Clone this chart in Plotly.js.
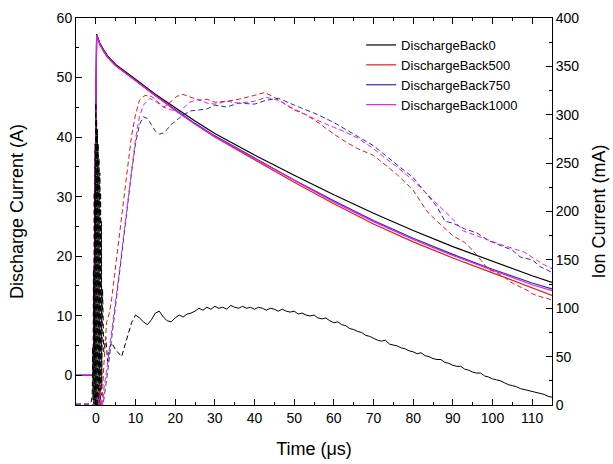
<!DOCTYPE html>
<html><head><meta charset="utf-8">
<script src="https://cdn.plot.ly/plotly-3.0.1.min.js"></script>
<style>html,body{margin:0;padding:0;background:#fff}#chart{width:613px;height:464px}</style>
</head><body><div id="chart"></div>
<script>
// ---- Discharge current (A), left axis ----
const dischargeTime = [-5, -0.6, 0.2, 0.5, 1, 2, 3, 5, 7.5, 10, 15, 20, 25, 30, 40, 50, 60, 70, 80, 90, 100, 110, 115];
const dischargeBack0    = [0, 0, 57.3, 56.6, 55.8, 54.6, 53.6, 52.2, 50.9, 49.7, 47.2, 44.9, 42.7, 40.6, 37.0, 33.6, 30.3, 27.2, 24.3, 21.6, 19.1, 16.7, 15.6];
const dischargeBack500  = [0, 0, 57.1, 56.4, 55.6, 54.4, 53.4, 52.0, 50.7, 49.5, 47.0, 44.5, 42.2, 40.0, 36.2, 32.4, 28.8, 25.4, 22.4, 19.7, 17.2, 14.7, 13.4];
const dischargeBack750  = [0, 0, 57.1, 56.4, 55.6, 54.4, 53.4, 52.0, 50.7, 49.5, 47.0, 44.6, 42.3, 40.2, 36.5, 32.8, 29.3, 26.0, 23.0, 20.3, 17.8, 15.5, 14.5];
const dischargeBack1000 = [0, 0, 57.1, 56.4, 55.6, 54.4, 53.4, 52.0, 50.7, 49.5, 47.0, 44.5, 42.2, 40.1, 36.4, 32.7, 29.1, 25.8, 22.8, 20.1, 17.6, 15.2, 14.2];

// ---- Ion current (mA), right axis ----
const ionTimeBack0 = [-5, -2, -1.2, -0.9, -0.8, -0.7, -0.6, -0.5, -0.4, -0.3, -0.2, -0.1, 0, 0.1, 0.2, 0.3, 0.4, 0.5, 0.6, 0.7, 0.8, 0.9, 1.0, 1.1, 1.2, 1.3, 1.4, 1.5, 1.7, 2.0, 2.5, 3.0, 3.5, 4.0, 5.0, 6.5, 8.0, 9.0,
  10, 11, 12, 13, 14, 15, 16, 17, 18, 19, 20, 21, 22, 23, 24, 25, 26, 27, 28, 29, 30, 31, 32, 33, 34, 35, 36, 37, 38, 39, 40, 41, 42, 43, 44, 45, 46, 47, 48, 49, 50, 51, 52, 53, 54, 55, 56, 57, 58, 59,
  60, 61, 62, 63, 64, 65, 66, 67, 68, 69, 70, 71, 72, 73, 74, 75, 76, 77, 78, 79, 80, 81, 82, 83, 84, 85, 86, 87, 88, 89, 90, 91, 92, 93, 94, 95, 96, 97, 98, 99, 100, 101, 102, 103, 104, 105, 106, 107, 108, 109, 110, 111, 112, 113, 114, 115];
const ionBack0 = [1, 1, 2, 10, 60, 5, 140, -10, 220, 0, 270, -10, 312, -15, 295, 0, 285, -10, 270, 5, 255, -10, 240, 0, 220, 10, 190, 20, 120, 55, 70, 45, 60, 64, 57, 50, 72, 85,
  93, 90, 86, 83, 88, 95, 97, 91, 87, 86, 90, 93, 91, 94, 95, 97, 100, 98, 101, 99, 102, 100, 101, 99, 103, 101, 100, 102, 100, 101, 99, 101, 100, 98, 100, 99, 97, 99, 97, 96, 97, 94, 95, 93, 92, 93, 90, 89, 90, 87,
  85, 86, 83, 82, 79, 78, 76, 75, 72, 71, 69, 67, 66, 67, 63, 62, 61, 59, 58, 56, 55, 53, 54, 51, 50, 48, 47, 47, 44, 43, 41, 40, 40, 37, 36, 34, 33, 33, 30, 29, 27, 26, 25, 23, 21, 20, 19, 17, 16, 15, 14, 13, 12, 11, 9, 8];

const ionTimeBack500 = [-5, 0, 0.5, 1, 1.5, 2, 2.7, 3.4, 4, 5, 6, 6.9, 8, 9, 10, 11, 12.4, 14, 15, 16, 17, 18, 20.4, 22, 24, 26, 28, 30, 33, 36, 40, 42.6, 45, 48, 50, 53, 56, 60, 63, 66, 70, 73, 76, 80, 83.5, 86, 90, 93, 95, 97, 99, 101, 103, 105, 107, 109, 110, 112, 114, 115];
const ionBack500 = [0, 0, -10, 20, -5, 40, 85, 95, 110, 145, 175, 205, 245, 278, 300, 315, 320, 319, 316, 312, 308, 310, 319, 321, 318, 315, 316, 313, 314, 316, 320, 323, 318, 310, 305, 300, 292, 280, 272, 265, 258, 248, 238, 222, 200, 190, 175, 168, 160, 150, 140, 137, 132, 126, 122, 118, 115, 112, 110, 108];

const ionTimeBack750 = [-5, 0, 0.5, 1, 1.5, 2, 3, 4, 5, 6, 7, 8, 9, 10, 11, 12, 13, 14, 15, 16, 17, 18, 19, 20, 22, 24, 26, 28, 30, 33, 36, 40, 43, 46, 50, 53, 56, 60, 63, 66, 70, 73, 76, 80, 83, 86, 88, 90, 93, 96, 99, 102, 105, 107, 110, 112, 115];
const ionBack750 = [0, 0, -15, 5, -5, 5, 35, 70, 100, 135, 170, 205, 240, 270, 290, 298, 296, 290, 283, 280, 281, 285, 290, 293, 300, 304, 305, 306, 310, 308, 312, 311, 315, 317, 310, 305, 300, 292, 285, 278, 268, 258, 248, 235, 220, 205, 190, 188, 182, 178, 170, 165, 160, 153, 150, 143, 137];

const ionTimeBack1000 = [-5, 0, 0.5, 1, 1.5, 2, 3, 4, 5, 6, 7, 8, 9, 10, 11, 12, 13.6, 15, 17, 19, 21, 23.7, 26, 28, 30, 33, 36, 40, 43, 46, 50, 53, 56, 60, 63, 66, 70, 73, 76, 80, 83, 86, 90, 92.6, 96, 99, 102, 105, 108, 111, 113, 115];
const ionBack1000 = [0, 0, -20, 10, -10, 15, 45, 75, 105, 140, 175, 210, 245, 275, 298, 310, 317, 314, 308, 305, 303, 313, 316, 312, 311, 314, 312, 314, 318, 315, 306, 300, 294, 287, 282, 276, 265, 255, 246, 232, 220, 208, 192, 180, 175, 170, 166, 162, 158, 150, 145, 141];

const seriesNames = ['DischargeBack0', 'DischargeBack500', 'DischargeBack750', 'DischargeBack1000'];
const seriesColors = ['#000000', '#dd1c1c', '#2c2ca8', '#e01ee0'];

const dashPat = '5px,3px';
const traces = [];

// black ion: dashed early part, noisy solid-looking part after 10 us
const split = ionTimeBack0.indexOf(10);
traces.push({x: ionTimeBack0.slice(0, split + 1), y: ionBack0.slice(0, split + 1), yaxis: 'y2', mode: 'lines', showlegend: false,
  line: {color: seriesColors[0], width: 1, dash: dashPat}, hoverinfo: 'skip'});
traces.push({x: ionTimeBack0.slice(split), y: ionBack0.slice(split), yaxis: 'y2', mode: 'lines', showlegend: false,
  line: {color: seriesColors[0], width: 1}, hoverinfo: 'skip'});

const ionT = [ionTimeBack500, ionTimeBack750, ionTimeBack1000];
const ionV = [ionBack500, ionBack750, ionBack1000];
for (let i = 0; i < 3; i++) {
  traces.push({x: ionT[i], y: ionV[i], yaxis: 'y2', mode: 'lines', showlegend: false,
    line: {color: seriesColors[i + 1], width: 1, dash: dashPat}, hoverinfo: 'skip'});
}

const dis = [dischargeBack0, dischargeBack500, dischargeBack750, dischargeBack1000];
for (let i = 0; i < 4; i++) {
  traces.push({x: dischargeTime, y: dis[i], yaxis: 'y', mode: 'lines', name: seriesNames[i],
    line: {color: seriesColors[i], width: 1.2}});
}

const fontFam = 'Arial, Liberation Sans, sans-serif';
const layout = {
  width: 613, height: 464,
  margin: {l: 76, r: 61, t: 18, b: 59, pad: 0},
  paper_bgcolor: '#ffffff', plot_bgcolor: '#ffffff',
  font: {family: fontFam, size: 14, color: '#000'},
  showlegend: true,
  legend: {x: 0.599, y: 0.969, xanchor: 'left', yanchor: 'top', bgcolor: 'rgba(0,0,0,0)',
    font: {family: fontFam, size: 13, color: '#000'}, tracegroupgap: 0},
  xaxis: {
    range: [-5, 115], tick0: 0, dtick: 10, ticks: 'inside', ticklen: 6, tickwidth: 1, tickcolor: '#000',
    showline: true, linecolor: '#000', linewidth: 1, mirror: 'ticks', showgrid: false, zeroline: false,
    minor: {dtick: 5, tick0: 0, ticks: 'inside', ticklen: 3, tickcolor: '#000', showgrid: false},
    title: {text: 'Time (μs)', font: {family: fontFam, size: 18}, standoff: 17},
    tickfont: {family: fontFam, size: 14}
  },
  yaxis: {
    range: [-5, 60], tick0: 0, dtick: 10, ticks: 'inside', ticklen: 6, tickwidth: 1, tickcolor: '#000',
    showline: true, linecolor: '#000', linewidth: 1, showgrid: false, zeroline: false,
    minor: {dtick: 5, tick0: 0, ticks: 'inside', ticklen: 3, tickcolor: '#000', showgrid: false},
    title: {text: 'Discharge Current (A)', font: {family: fontFam, size: 18}, standoff: 28},
    tickfont: {family: fontFam, size: 14}
  },
  yaxis2: {
    overlaying: 'y', side: 'right', range: [0, 400], tick0: 0, dtick: 50, ticks: 'inside', ticklen: 6, tickwidth: 1, tickcolor: '#000',
    showline: true, linecolor: '#000', linewidth: 1, showgrid: false, zeroline: false,
    minor: {dtick: 25, tick0: 0, ticks: 'inside', ticklen: 3, tickcolor: '#000', showgrid: false},
    title: {text: 'Ion Current (mA)', font: {family: fontFam, size: 18}, standoff: 14},
    tickfont: {family: fontFam, size: 14}
  }
};

Plotly.newPlot('chart', traces, layout, {displayModeBar: false, staticPlot: true});
</script>
</body></html>
